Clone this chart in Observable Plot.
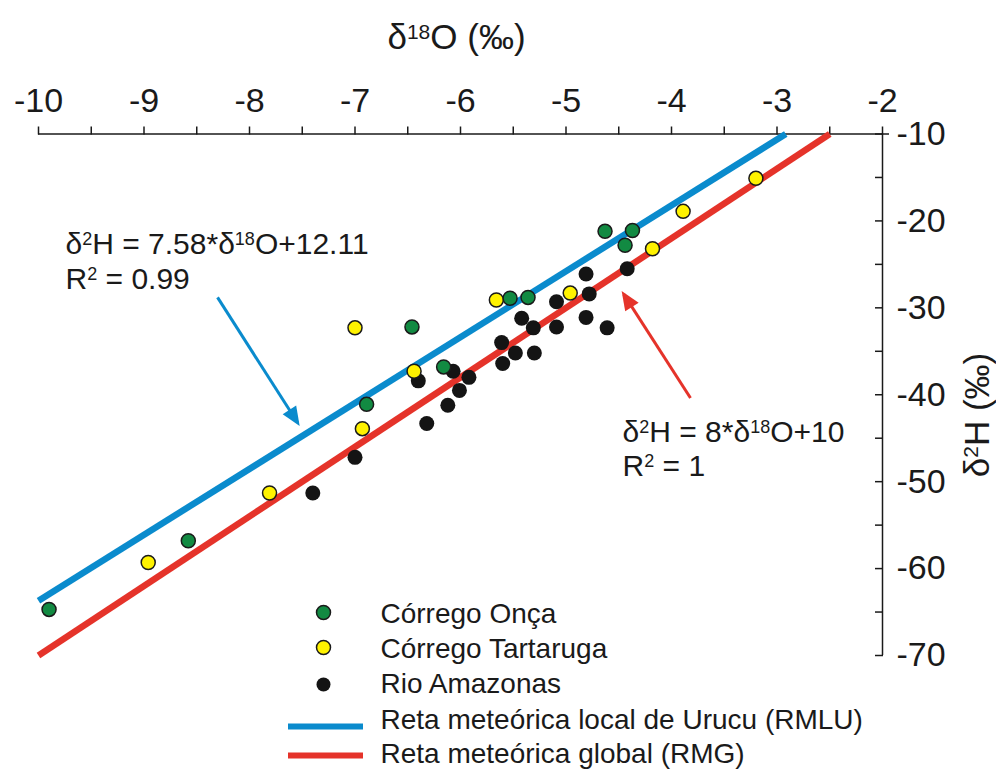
<!DOCTYPE html>
<html><head><meta charset="utf-8">
<script src="https://cdn.jsdelivr.net/npm/d3@7"></script>
<script src="https://cdn.jsdelivr.net/npm/@observablehq/plot@0.6"></script>
<style>
body{margin:0;background:#fff;}
#chart svg{display:block;}
</style></head><body><div id="chart"></div>
<script>
// ---- data ----
const oncaX = [-6.46,-5.53,-5.36,-6.16,-6.89,-4.63,-4.37,-4.44,-8.58,-9.90];
const oncaY = [-32.2,-28.9,-28.8,-36.8,-41.1,-21.2,-21.1,-22.8,-56.8,-64.7];
const tartarugaX = [-7.00,-5.66,-4.96,-6.44,-6.93,-3.20,-3.89,-4.18,-7.81,-8.96];
const tartarugaY = [-32.3,-29.1,-28.3,-37.3,-43.9,-15.1,-18.9,-23.2,-51.3,-59.3];
const amazonasX = [-4.81,-4.42,-4.78,-5.09,-5.42,-5.31,-5.09,-4.81,-4.61,-5.61,-5.48,-5.30,-5.60,-6.40,-6.07,-5.92,-6.01,-6.12,-6.32,-7.00,-7.40];
const amazonasY = [-26.1,-25.5,-28.4,-29.3,-31.2,-32.3,-32.2,-31.1,-32.3,-34.0,-35.2,-35.2,-36.4,-38.4,-37.3,-38.0,-39.5,-41.2,-43.3,-47.2,-51.3];

// regression lines (end points as drawn)
const rmluX = [-10, -2.917];
const rmluY = [-63.69, -10];
const rmgX = [-10, -2.5];
const rmgY = [-70, -10];

// axis ticks
const xMajorTicks = [-10,-9,-8,-7,-6,-5,-4,-3,-2];
const xMinorTicks = [-10,-9.5,-9,-8.5,-8,-7.5,-7,-6.5,-6,-5.5,-5,-4.5,-4,-3.5,-3,-2.5,-2];
const yMajorTicks = [-10,-20,-30,-40,-50,-60,-70];
const yMinorTicks = [-10,-15,-20,-25,-30,-35,-40,-45,-50,-55,-60,-65,-70];

// legend labels
const seriesNames = ["Córrego Onça","Córrego Tartaruga","Rio Amazonas"];
const lineNames = ["Reta meteórica local de Urucu (RMLU)","Reta meteórica global (RMG)"];

// annotations
const blueEqText = ["δ^2H = 7.58*δ^18O+12.11","R^2 = 0.99"];
const blueEqX = [-9.744,-9.744];
const blueEqY = [-21.32,-25.34];
const redEqText = ["δ^2H = 8*δ^18O+10","R^2 = 1"];
const redEqX = [-4.464,-4.464];
const redEqY = [-42.93,-46.95];
const blueArrow = {x1:-8.303, y1:-28.8, x2:-7.545, y2:-43.2};
const redArrow = {x1:-3.820, y1:-40.37, x2:-4.452, y2:-28.45};

// ---- styling ----
const GREEN = "#128a42", YELLOW = "#fff200", BLACK = "#141414";
const BLUE = "#0a8bcd", RED = "#e5332a", INK = "#1a1a1a";
const FONT = "Liberation Sans, Arial, Helvetica, sans-serif";

const toPts = (xs, ys) => xs.map((x, i) => ({x, y: ys[i]}));
const onca = toPts(oncaX, oncaY);
const tart = toPts(tartarugaX, tartarugaY);
const amaz = toPts(amazonasX, amazonasY);
const rmlu = toPts(rmluX, rmluY);
const rmg = toPts(rmgX, rmgY);
const blueEq = blueEqText.map((t, i) => ({t, x: blueEqX[i], y: blueEqY[i]}));
const redEq = redEqText.map((t, i) => ({t, x: redEqX[i], y: redEqY[i]}));

const lineSymbol = {draw(ctx){ ctx.moveTo(-37.5, 0); ctx.lineTo(37.5, 0); }};

const legendRowsDy = [-43, -8, 29, 71, 100];
const legendTextDy = [-33, 2, 37, 73, 107];
const legendMarks = [];
const seriesFill = [GREEN, YELLOW, BLACK];
seriesNames.forEach((name, i) => {
  legendMarks.push(Plot.dot([name], {frameAnchor: "bottom-left", dx: 285, dy: legendRowsDy[i],
    r: 7, fill: seriesFill[i], stroke: i === 2 ? "none" : INK, strokeWidth: 1.5}));
  legendMarks.push(Plot.text([name], {text: d => d, frameAnchor: "bottom-left", dx: 342, dy: legendTextDy[i],
    textAnchor: "start", lineAnchor: "bottom", fontSize: 28, fill: INK}));
});
lineNames.forEach((name, j) => {
  legendMarks.push(Plot.dot([name], {frameAnchor: "bottom-left", dx: 287, dy: legendRowsDy[3 + j],
    symbol: lineSymbol, r: 5, fill: "none", stroke: j === 0 ? BLUE : RED, strokeWidth: 6}));
  legendMarks.push(Plot.text([name], {text: d => d, frameAnchor: "bottom-left", dx: 342, dy: legendTextDy[3 + j],
    textAnchor: "start", lineAnchor: "bottom", fontSize: 28, fill: INK}));
});

const chart = Plot.plot({
  width: 996, height: 770,
  marginTop: 133.5, marginBottom: 115, marginLeft: 38, marginRight: 114,
  style: {fontFamily: FONT, background: "#fff", color: INK, overflow: "visible"},
  x: {domain: [-10, -2], label: null},
  y: {domain: [-70, -10], label: null},
  marks: [
    // axes
    Plot.axisX(xMinorTicks, {anchor: "top", tickSize: 8, tickFormat: () => "", stroke: INK, strokeWidth: 1.5}),
    Plot.axisX(xMajorTicks, {anchor: "top", tickSize: 0, tickPadding: 22, fontSize: 34, tickFormat: d => String(d), fill: INK}),
    Plot.axisY(yMinorTicks, {anchor: "right", tickSize: -8, tickFormat: () => "", stroke: INK, strokeWidth: 1.5}),
    Plot.axisY(yMajorTicks, {anchor: "right", tickSize: 0, tickPadding: 14, fontSize: 34, tickFormat: d => String(d), fill: INK}),
    Plot.ruleY([-10], {stroke: INK, strokeWidth: 1.5, insetRight: -7}),
    Plot.ruleX([-2], {stroke: INK, strokeWidth: 1.5}),
    // axis titles
    Plot.text(["δ^18O (‰)"], {text: d => d, frameAnchor: "top", dx: -4, dy: -96, fontSize: 35, lineAnchor: "middle", fill: INK}),
    Plot.text(["δ^2H (‰)"], {text: d => d, frameAnchor: "right", dx: 95, dy: -42, rotate: -90, fontSize: 35, lineAnchor: "middle", fill: INK}),
    // meteoric lines
    Plot.line(rmlu, {x: "x", y: "y", stroke: BLUE, strokeWidth: 6.5, strokeLinecap: "butt"}),
    Plot.line(rmg, {x: "x", y: "y", stroke: RED, strokeWidth: 6.5, strokeLinecap: "butt"}),
    // arrows
    Plot.link([blueArrow], {x1: "x1", y1: "y1", x2: "x2", y2: "y2", stroke: BLUE, strokeWidth: 3, className: "arrow-blue"}),
    Plot.link([redArrow], {x1: "x1", y1: "y1", x2: "x2", y2: "y2", stroke: RED, strokeWidth: 3, className: "arrow-red"}),
    // equations
    Plot.text(blueEq, {x: "x", y: "y", text: "t", textAnchor: "start", lineAnchor: "top", fontSize: 30, fill: INK}),
    Plot.text(redEq, {x: "x", y: "y", text: "t", textAnchor: "start", lineAnchor: "top", fontSize: 30, fill: INK}),
    // samples
    Plot.dot(amaz, {x: "x", y: "y", r: 7.5, fill: BLACK}),
    Plot.dot(tart, {x: "x", y: "y", r: 7, fill: YELLOW, stroke: INK, strokeWidth: 1.5}),
    Plot.dot(onca, {x: "x", y: "y", r: 7, fill: GREEN, stroke: INK, strokeWidth: 1.5}),
    ...legendMarks
  ]
});

// superscripts
const NS = "http://www.w3.org/2000/svg";
chart.querySelectorAll("text").forEach(el => {
  const s = el.textContent;
  if (!s.includes("^") || el.children.length) return;
  const fs = parseFloat(el.closest("[font-size]")?.getAttribute("font-size")) || 30;
  const shift = fs * 0.3;
  el.textContent = "";
  let up = false;
  for (const p of s.split(/(\^\d+)/)) {
    if (!p) continue;
    const t = document.createElementNS(NS, "tspan");
    if (p[0] === "^") {
      t.textContent = p.slice(1);
      t.setAttribute("font-size", fs * 0.6);
      t.setAttribute("dy", -shift);
      up = true;
    } else {
      t.textContent = p;
      if (up) { t.setAttribute("dy", shift); up = false; }
    }
    el.appendChild(t);
  }
});

// filled arrow heads
const defs = document.createElementNS(NS, "defs");
[["ah-blue", BLUE], ["ah-red", RED]].forEach(([id, c]) => {
  const m = document.createElementNS(NS, "marker");
  m.setAttribute("id", id);
  m.setAttribute("markerUnits", "userSpaceOnUse");
  m.setAttribute("markerWidth", 20); m.setAttribute("markerHeight", 16);
  m.setAttribute("refX", 15); m.setAttribute("refY", 8);
  m.setAttribute("orient", "auto");
  m.setAttribute("overflow", "visible");
  const p = document.createElementNS(NS, "path");
  p.setAttribute("d", "M0,0L19,8L0,16Z");
  p.setAttribute("fill", c);
  m.appendChild(p); defs.appendChild(m);
});
chart.insertBefore(defs, chart.firstChild);
chart.querySelectorAll(".arrow-blue path, .arrow-blue line").forEach(e => e.setAttribute("marker-end", "url(#ah-blue)"));
chart.querySelectorAll(".arrow-red path, .arrow-red line").forEach(e => e.setAttribute("marker-end", "url(#ah-red)"));

document.getElementById("chart").appendChild(chart);
</script>
</body></html>
